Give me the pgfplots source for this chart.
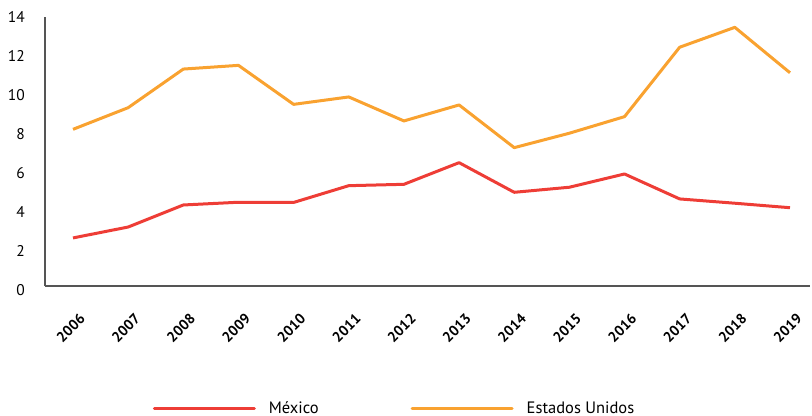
\documentclass[border=0pt]{standalone}
\usepackage{fontspec}
\setmainfont{PT Sans}
\usepackage{pgfplots}
\pgfplotsset{compat=1.18}
\definecolor{mxred}{HTML}{EE3D36}
\definecolor{usorange}{HTML}{F9A230}
\definecolor{axgray}{HTML}{555555}
\begin{document}
\begin{tikzpicture}
\begin{axis}[
  scale only axis, width=765bp, height=273bp,
  xmin=-0.508, xmax=13.363, ymin=0, ymax=14,
  axis lines=left,
  axis line style={axgray, line width=2bp, -},
  x axis line style={yshift=4bp},
  y axis line style={shorten <=4bp},
  xtick={0,...,13},
  xticklabels={2006,2007,2008,2009,2010,2011,2012,2013,2014,2015,2016,2017,2018,2019},
  ytick={0,2,...,14},
  major tick length=0pt,
  /pgf/number format/assume math mode=true,
  yticklabel style={font=\fontsize{15.5bp}{18bp}\selectfont, anchor=east, inner sep=0pt, xshift=-20bp},
  xticklabel style={font=\bfseries\fontsize{14.5bp}{17bp}\selectfont, rotate=45, anchor=east, inner sep=0pt, xshift=-12bp, yshift=-25.4bp},
  legend columns=2,
  legend cell align=left,
  legend image code/.code={\draw[#1, line cap=round] (0bp,0bp) -- (100bp,0bp);},
  legend style={at={(0.4556,-0.434)}, anchor=center, draw=none, fill=none, inner sep=0pt,
    nodes={inner sep=0pt}, font=\fontsize{16.5bp}{19bp}\selectfont,
    /tikz/every odd column/.append style={column sep=13bp},
    /tikz/every even column/.append style={column sep=92bp}},
]
\addplot[mxred, line width=3bp, line join=round] coordinates {
  (0,2.67) (1,3.23) (2,4.36) (3,4.50) (4,4.49) (5,5.35) (6,5.42)
  (7,6.53) (8,5.01) (9,5.27) (10,5.95) (11,4.67) (12,4.45) (13,4.22)};
\addlegendentry{México}
\addplot[usorange, line width=3bp, line join=round] coordinates {
  (0,8.24) (1,9.35) (2,11.33) (3,11.52) (4,9.52) (5,9.90) (6,8.67)
  (7,9.49) (8,7.30) (9,8.04) (10,8.89) (11,12.45) (12,13.47) (13,11.14)};
\addlegendentry{Estados Unidos}
\end{axis}
\pgfresetboundingbox
\path[use as bounding box] ([shift={(-45bp,-126bp)}]current axis.south west) rectangle ([shift={(2bp,17bp)}]current axis.north east);
\end{tikzpicture}
\end{document}
